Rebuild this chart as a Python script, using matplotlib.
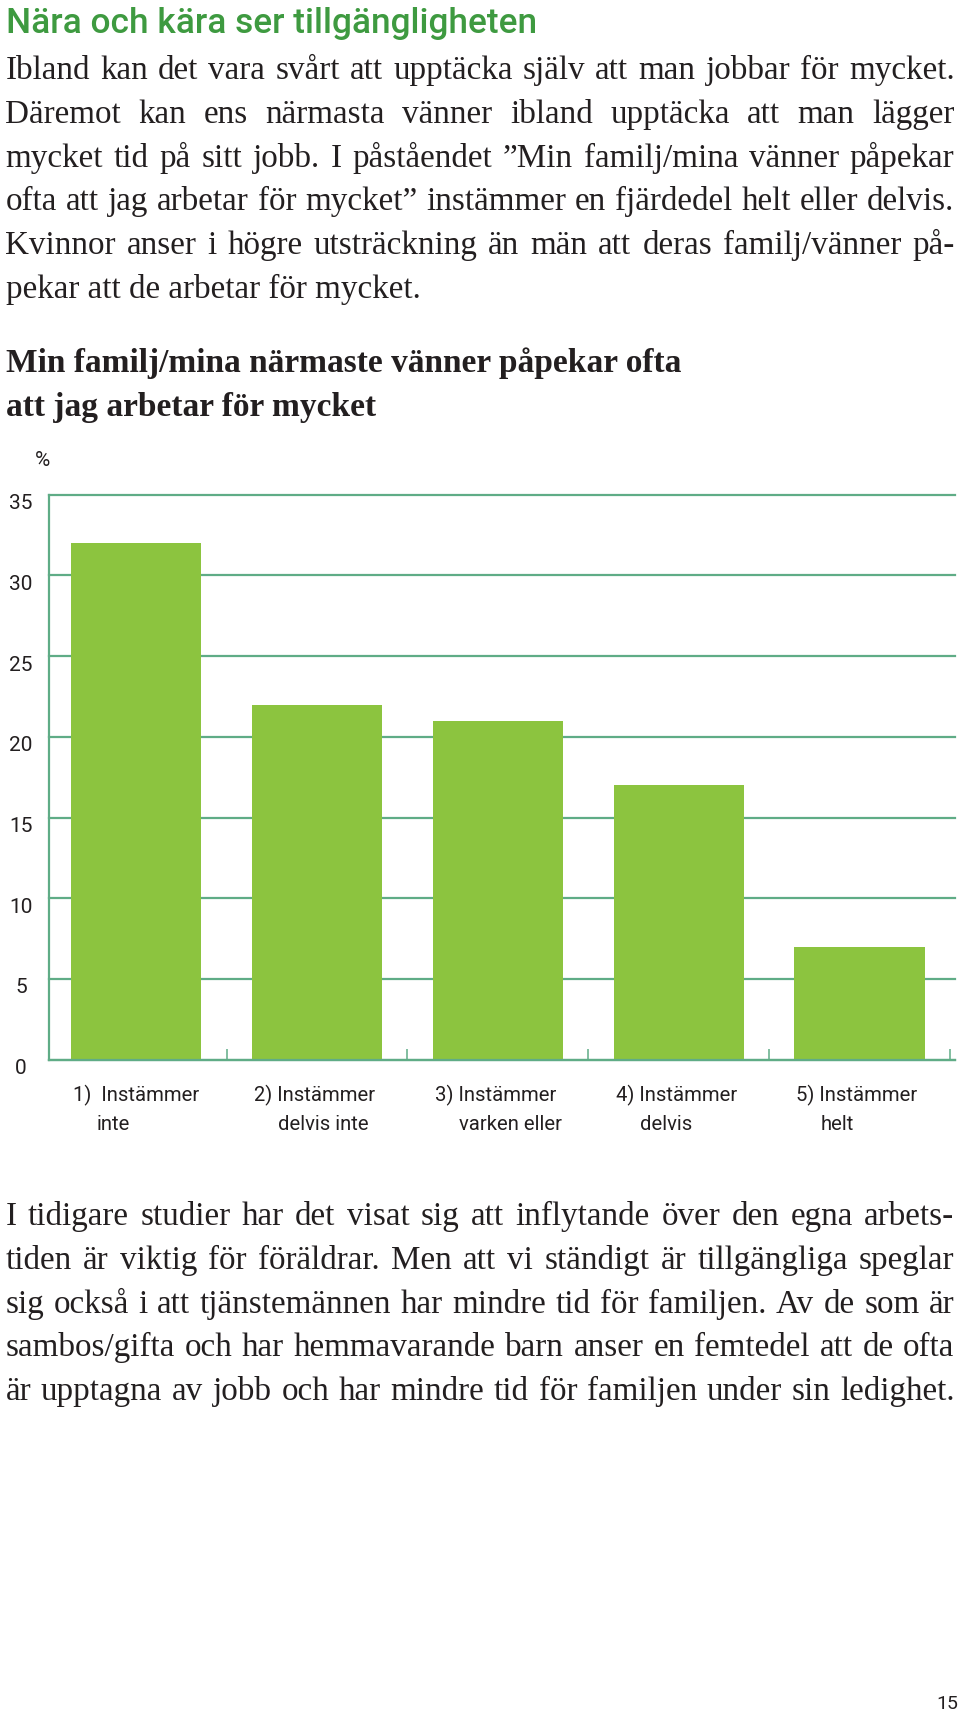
import matplotlib
matplotlib.use("Agg")
import matplotlib.pyplot as plt
from matplotlib import transforms
import numpy as np

# ---------------- content ----------------
page_title = "Nära och kära ser tillgängligheten"
para1 = [
    "Ibland kan det vara svårt att upptäcka själv att man jobbar för mycket.",
    "Däremot kan ens närmasta vänner ibland upptäcka att man lägger",
    "mycket tid på sitt jobb. I påståendet ”Min familj/mina vänner påpekar",
    "ofta att jag arbetar för mycket” instämmer en fjärdedel helt eller delvis.",
    "Kvinnor anser i högre utsträckning än män att deras familj/vänner på-",
    "pekar att de arbetar för mycket.",
]
chart_title = ["Min familj/mina närmaste vänner påpekar ofta",
               "att jag arbetar för mycket"]
unit_label = "%"
cat_line1 = ["1)  Instämmer", "2) Instämmer", "3) Instämmer",
             "4) Instämmer", "5) Instämmer"]
cat_line2 = ["inte", "delvis inte", "varken eller", "delvis", "helt"]
values = [32, 22, 21, 17, 7]
yticks = [0, 5, 10, 15, 20, 25, 30, 35]
para2 = [
    "I tidigare studier har det visat sig att inflytande över den egna arbets-",
    "tiden är viktig för föräldrar. Men att vi ständigt är tillgängliga speglar",
    "sig också i att tjänstemännen har mindre tid för familjen. Av de som är",
    "sambos/gifta och har hemmavarande barn anser en femtedel att de ofta",
    "är upptagna av jobb och har mindre tid för familjen under sin ledighet.",
]
page_number = "15"

# ---------------- style ----------------
W, H, DPI = 960, 1717, 100
GREEN_TITLE = "#3e9a40"
BAR = "#8cc43f"
GRID = "#5fac86"
TEXT = "#231f20"
SERIF = ["Liberation Serif", "DejaVu Serif"]
SANS = ["Roboto", "DejaVu Sans"]

fig = plt.figure(figsize=(W / DPI, H / DPI), dpi=DPI)
fig.patch.set_facecolor("white")
renderer = fig.canvas.get_renderer()


def px(x, y):
    return x / W, 1 - y / H


def text_width(s, **kw):
    t = fig.text(0, 0, s, **kw)
    w = t.get_window_extent(renderer).width
    t.remove()
    return w


def fit_size(s, target, base=20.0, **kw):
    return base * target / text_width(s, fontsize=base, **kw)


def justified(lines, x0, x1, y0, dy, fs, justify_last, **kw):
    for i, line in enumerate(lines):
        y = y0 + i * dy
        last = i == len(lines) - 1
        if last and not justify_last:
            fig.text(*px(x0, y), line, fontsize=fs, va="baseline", ha="left", **kw)
            continue
        words = line.split(" ")
        widths = [text_width(w, fontsize=fs, **kw) for w in words]
        gap = (x1 - x0 - sum(widths)) / (len(words) - 1)
        x = x0
        for w, wd in zip(words, widths):
            fig.text(*px(x, y), w, fontsize=fs, va="baseline", ha="left", **kw)
            x += wd + gap


# page title
fs_title = fit_size(page_title, 531, family=SANS, weight="medium")
fig.text(*px(5.5, 33), page_title, fontsize=fs_title, family=SANS,
         weight="medium", color=GREEN_TITLE, va="baseline", ha="left")

# body text font size: longest justified line fits with natural spacing
X0, X1 = 5.5, 954.5
just_lines = para1[:-1] + para2
fs_body = min(fit_size(l, (X1 - X0) * 0.995, family=SERIF) for l in just_lines)
justified(para1, X0, X1, 79, 43.8, fs_body, False, family=SERIF, color=TEXT)

# chart title
fs_ct = fit_size(chart_title[0], 674, family=SERIF, weight="bold")
fig.text(*px(5.5, 372), chart_title[0], fontsize=fs_ct, family=SERIF,
         weight="bold", color=TEXT, va="baseline")
fig.text(*px(5.5, 416), chart_title[1], fontsize=fs_ct, family=SERIF,
         weight="bold", color=TEXT, va="baseline")

# unit label
fig.text(*px(42.5, 461), unit_label, fontsize=15, family=SANS, color=TEXT,
         ha="center", va="center")

# ---------------- chart ----------------
left, right, top, bottom = 49.3, 954.5, 494.8, 1059.6
ax = fig.add_axes([left / W, 1 - bottom / H, (right - left) / W, (bottom - top) / H])
x = np.arange(len(values))
ax.bar(x, values, width=0.72, color=BAR, zorder=2)
ax.set_xlim(-0.48, 4.525)
ax.set_ylim(0, 35)
ax.set_yticks(yticks)
ax.yaxis.grid(True, color=GRID, lw=1.6)
ax.set_axisbelow(True)
for gl in ax.get_ygridlines():
    gl.set_clip_on(False)
for s in ["top", "right"]:
    ax.spines[s].set_visible(False)
for s in ["left", "bottom"]:
    ax.spines[s].set_color(GRID)
    ax.spines[s].set_linewidth(1.6)
    ax.spines[s].set_zorder(3)
ax.set_xticks(x + 0.5)
ax.set_xticklabels([])
ax.tick_params(axis="x", direction="in", length=8, width=1.1, color=GRID)
ax.tick_params(axis="y", length=0, labelleft=False)

# y tick labels (centred, slightly below their gridlines)
ytrans = transforms.blended_transform_factory(ax.transAxes, ax.transData)
yoff = transforms.ScaledTranslation(0, -9 / DPI, fig.dpi_scale_trans)
xfrac = (21 - left) / (right - left)
for v in yticks:
    ax.text(xfrac, v, str(v), transform=ytrans + yoff, ha="center",
            va="center", fontsize=15, family=SANS, color=TEXT, clip_on=False)

# category labels
ctrans = transforms.blended_transform_factory(ax.transData, fig.transFigure)
off1 = transforms.ScaledTranslation(2 / DPI, 0, fig.dpi_scale_trans)
off2 = transforms.ScaledTranslation(26 / DPI, 0, fig.dpi_scale_trans)
fs_cat = 14.6
for i, (l1, l2) in enumerate(zip(cat_line1, cat_line2)):
    xl = i - 0.36
    ax.text(xl, 1 - 1095 / H, l1, transform=ctrans + off1, ha="left",
            va="center", fontsize=fs_cat, family=SANS, color=TEXT, clip_on=False)
    ax.text(xl, 1 - 1124.5 / H, l2, transform=ctrans + off2, ha="left",
            va="center", fontsize=fs_cat, family=SANS, color=TEXT, clip_on=False)

# second paragraph
justified(para2, X0, X1, 1225, 43.8, fs_body, True, family=SERIF, color=TEXT)

# page number
fig.text(*px(947, 1704), page_number, fontsize=14, family=SANS, color=TEXT,
         ha="center", va="center")

fig.savefig("out.png", dpi=DPI, facecolor="white")
